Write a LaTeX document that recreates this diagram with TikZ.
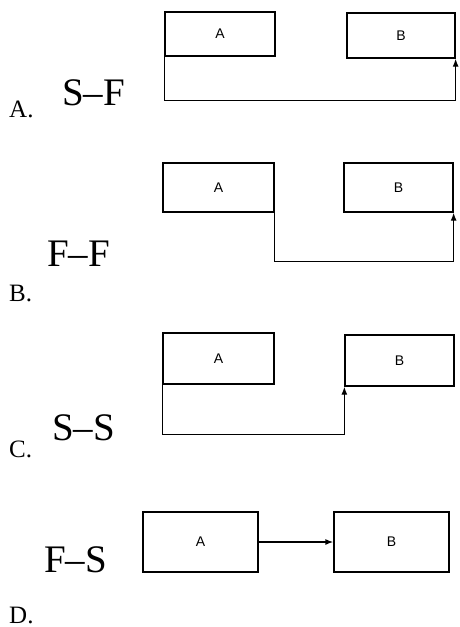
\documentclass[tikz,border=0pt]{standalone}
\usepackage{fontspec}
\setmainfont{Liberation Serif}
\newfontfamily\boxfont{Liberation Sans}
\usetikzlibrary{arrows.meta}

\begin{document}
\begin{tikzpicture}[x=1pt, y=-1pt,
    task/.style={draw, line width=1.3pt, font=\boxfont\fontsize{14}{14}\selectfont},
    link/.style={line width=1.3pt, -{Latex[length=8pt,width=6pt]}},
    kind/.style={anchor=west, inner sep=0pt, font=\fontsize{39}{39}\selectfont},
    item/.style={anchor=west, inner sep=0pt, font=\fontsize{25}{25}\selectfont}]
  \useasboundingbox (0,0) rectangle (459,627);
  %tikz  A: S-F
    \node[task, minimum width=110pt, minimum height=44pt] (a1) at (220,34) {A};
    \node[task, minimum width=108pt, minimum height=45pt] (b1) at (401,35.5) {B};
    \draw[link] (a1.south west) -- ++(0,44) -| (b1.south east);
    \node[kind] (k1) at (62,93) {S--F};
    \node[item] (l1) at (9,109) {A.};
  %tikz  B: F-F
    \node[task, minimum width=111pt, minimum height=49pt] (a2) at (218.5,187.5) {A};
    \node[task, minimum width=109pt, minimum height=49pt] (b2) at (398.5,187.5) {B};
    \draw[link] (a2.south east) -- ++(0,49) -| (b2.south east);
    \node[kind] (k2) at (47,254) {F--F};
    \node[item] (l2) at (9,293) {B.};
  %tikz  C: S-S
    \node[task, minimum width=111pt, minimum height=51pt] (a3) at (218.5,358.5) {A};
    \node[task, minimum width=109pt, minimum height=51pt] (b3) at (399.5,360.5) {B};
    \draw[link] (a3.south west) -- ++(0,50) -| (b3.south west);
    \node[kind] (k3) at (52,428) {S--S};
    \node[item] (l3) at (9,449) {C.};
  %tikz  D: F-S
    \node[task, minimum width=115pt, minimum height=60pt] (a4) at (200.5,542) {A};
    \node[task, minimum width=115pt, minimum height=60pt] (b4) at (391.5,542) {B};
    \draw[link] (a4) -- (b4);
    \node[kind] (k4) at (44,560) {F--S};
    \node[item] (l4) at (9,615) {D.};
\end{tikzpicture}
\end{document}
